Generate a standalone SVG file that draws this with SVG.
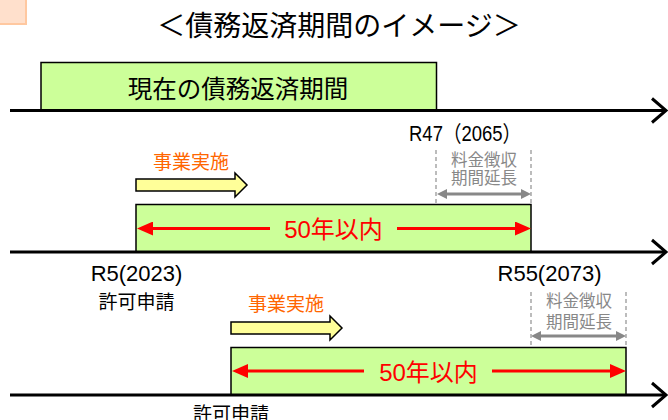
<svg xmlns="http://www.w3.org/2000/svg" width="668" height="420" viewBox="0 0 668 420">
<style>
.t{font-family:"Liberation Sans","Noto Sans CJK JP",sans-serif;}
.cjk{font-family:"Noto Sans CJK JP","Liberation Sans",sans-serif;}
.box{fill:#CCFF99;stroke:#000;stroke-width:1.5;}
.yarr{fill:#FFFF99;stroke:#000;stroke-width:1.5;}
.axis{stroke:#000;stroke-width:3;fill:none;}
.red{stroke:#FF0000;stroke-width:3;fill:none;}
.gray{stroke:#888;stroke-width:3;fill:none;}
.dash{stroke:#999;stroke-width:1.3;stroke-dasharray:4 3;fill:none;}
.org{fill:#FF6600;font-size:19px;}
.gtx{fill:#888;font-size:16.5px;}
</style>
<defs>
<marker id="rh" markerUnits="userSpaceOnUse" viewBox="0 0 16 14" markerWidth="16" markerHeight="14" refX="0" refY="7" orient="auto"><path d="M0,0 L16,7 L0,14 z" fill="#FF0000"/></marker>
<marker id="gh" markerUnits="userSpaceOnUse" viewBox="0 0 10 10" markerWidth="10" markerHeight="10" refX="0" refY="5" orient="auto-start-reverse"><path d="M0,0 L10,5 L0,10 z" fill="#888"/></marker>
</defs>
<rect x="0" y="0" width="668" height="420" fill="#fff"/>
<rect x="-3" y="-3" width="29" height="27" fill="#FFE0CC" stroke="#FFC8A0" stroke-width="2"/>
<text class="cjk" x="339" y="24" font-size="28" text-anchor="middle" dominant-baseline="central">＜債務返済期間のイメージ＞</text>

<g id="current-period">
<rect class="box" x="41" y="62.5" width="395.5" height="48"/>
<text class="cjk" x="238" y="87.5" font-size="24.5" text-anchor="middle" dominant-baseline="central">現在の債務返済期間</text>
</g>

<g id="row1">
<text class="cjk org" x="191" y="160" text-anchor="middle" dominant-baseline="central">事業実施</text>
<polygon class="yarr" points="136,179 235,179 235,173 247,185 235,197 235,191 136,191"/>
<rect class="box" x="136" y="204.5" width="395" height="47.5"/>
<text class="t" x="333.5" y="229.5" font-size="24" fill="#FF0000" text-anchor="middle" dominant-baseline="central">50年以内</text>
<text class="t" x="465" y="141" font-size="22" text-anchor="middle" textLength="112" lengthAdjust="spacingAndGlyphs">R47（2065）</text>
<text class="cjk gtx" x="484" y="158.5" text-anchor="middle" dominant-baseline="central">料金徴収</text>
<text class="cjk gtx" x="484" y="177" text-anchor="middle" dominant-baseline="central">期間延長</text>
<text class="t" x="136.5" y="281" font-size="22" text-anchor="middle">R5(2023)</text>
<text class="cjk" x="136.5" y="300" font-size="19" text-anchor="middle" dominant-baseline="central">許可申請</text>
</g>

<g id="row2">
<text class="cjk org" x="286" y="302.5" text-anchor="middle" dominant-baseline="central">事業実施</text>
<polygon class="yarr" points="231,322 330,322 330,316 342,328 330,340 330,334 231,334"/>
<rect class="box" x="231" y="347.5" width="395" height="47.5"/>
<text class="t" x="428.5" y="372" font-size="24" fill="#FF0000" text-anchor="middle" dominant-baseline="central">50年以内</text>
<text class="t" x="549.5" y="281" font-size="22" text-anchor="middle">R55(2073)</text>
<text class="cjk gtx" x="579" y="300" text-anchor="middle" dominant-baseline="central">料金徴収</text>
<text class="cjk gtx" x="579" y="321" text-anchor="middle" dominant-baseline="central">期間延長</text>
<text class="cjk" x="231" y="412" font-size="19" text-anchor="middle" dominant-baseline="central">許可申請</text>
</g>

<g id="connectors">
<line class="axis" x1="10" y1="110.5" x2="666" y2="110.5"/>
<polyline class="axis" points="652,98.5 666,110.5 652,122.5"/>
<line class="axis" x1="10" y1="252" x2="666" y2="252"/>
<polyline class="axis" points="652,240 666,252 652,264"/>
<line class="axis" x1="10" y1="395" x2="666" y2="395"/>
<polyline class="axis" points="652,383 666,395 652,407"/>

<line class="red" x1="270" y1="228.5" x2="153" y2="228.5" marker-end="url(#rh)"/>
<line class="red" x1="397" y1="228.5" x2="515" y2="228.5" marker-end="url(#rh)"/>
<line class="red" x1="364" y1="371" x2="248" y2="371" marker-end="url(#rh)"/>
<line class="red" x1="492" y1="371" x2="610" y2="371" marker-end="url(#rh)"/>

<line class="dash" x1="436" y1="150" x2="436" y2="204"/>
<line class="dash" x1="531" y1="150" x2="531" y2="204"/>
<line class="gray" x1="447" y1="194" x2="521" y2="194" marker-start="url(#gh)" marker-end="url(#gh)"/>
<line class="dash" x1="531" y1="292" x2="531" y2="347"/>
<line class="dash" x1="626" y1="292" x2="626" y2="347"/>
<line class="gray" x1="541" y1="336" x2="616" y2="336" marker-start="url(#gh)" marker-end="url(#gh)"/>
</g>
</svg>
